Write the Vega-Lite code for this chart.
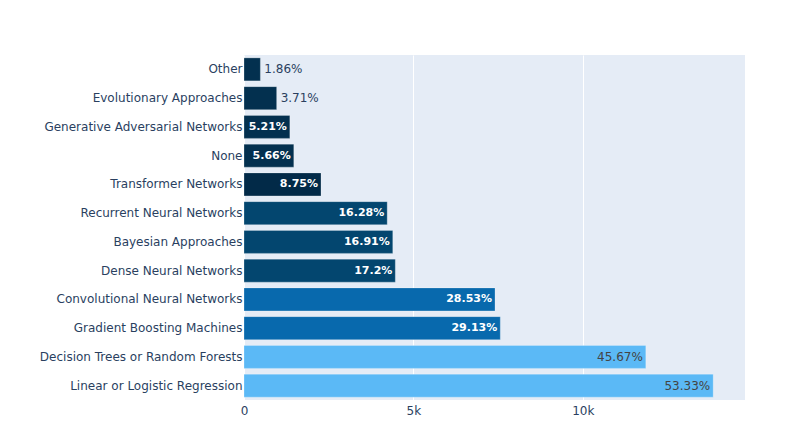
{
  "$schema": "https://vega.github.io/schema/vega-lite/v6.json",
  "width": 501,
  "height": 345,
  "autosize": {"type": "none"},
  "padding": {"left": 244, "top": 55, "right": 40, "bottom": 43},
  "background": "#ffffff",
  "config": {
    "view": {"fill": "#e5ecf6", "stroke": null},
    "font": "DejaVu Sans"
  },
  "data": {
    "values": [
      {"algorithm": "Linear or Logistic Regression", "count": 13851, "pct": "53.33%", "tier": "A"},
      {"algorithm": "Decision Trees or Random Forests", "count": 11862, "pct": "45.67%", "tier": "A"},
      {"algorithm": "Gradient Boosting Machines", "count": 7566, "pct": "29.13%", "tier": "B"},
      {"algorithm": "Convolutional Neural Networks", "count": 7410, "pct": "28.53%", "tier": "B"},
      {"algorithm": "Dense Neural Networks", "count": 4467, "pct": "17.2%", "tier": "C"},
      {"algorithm": "Bayesian Approaches", "count": 4392, "pct": "16.91%", "tier": "C"},
      {"algorithm": "Recurrent Neural Networks", "count": 4228, "pct": "16.28%", "tier": "C"},
      {"algorithm": "Transformer Networks", "count": 2273, "pct": "8.75%", "tier": "E"},
      {"algorithm": "None", "count": 1470, "pct": "5.66%", "tier": "D"},
      {"algorithm": "Generative Adversarial Networks", "count": 1353, "pct": "5.21%", "tier": "D"},
      {"algorithm": "Evolutionary Approaches", "count": 964, "pct": "3.71%", "tier": "D"},
      {"algorithm": "Other", "count": 483, "pct": "1.86%", "tier": "D"}
    ]
  },
  "encoding": {
    "y": {
      "field": "algorithm",
      "type": "nominal",
      "sort": ["Other", "Evolutionary Approaches", "Generative Adversarial Networks", "None", "Transformer Networks", "Recurrent Neural Networks", "Bayesian Approaches", "Dense Neural Networks", "Convolutional Neural Networks", "Gradient Boosting Machines", "Decision Trees or Random Forests", "Linear or Logistic Regression"],
      "title": null,
      "scale": {"paddingInner": 0.2, "paddingOuter": 0.1},
      "axis": {
        "domain": false,
        "ticks": false,
        "labelPadding": 2,
        "labelLimit": 0,
        "labelFont": "DejaVu Sans",
        "labelFontSize": 12,
        "labelColor": "#2a3f5f",
        "grid": false
      }
    },
    "x": {
      "field": "count",
      "type": "quantitative",
      "title": null,
      "scale": {"domain": [0, 14790], "nice": false, "zero": true},
      "axis": {
        "values": [0, 5000, 10000],
        "labelExpr": "datum.value === 0 ? '0' : (datum.value / 1000) + 'k'",
        "labelFlush": false,
        "domain": false,
        "ticks": false,
        "labelPadding": 5,
        "labelFont": "DejaVu Sans",
        "labelFontSize": 12,
        "labelColor": "#2a3f5f",
        "grid": true,
        "gridColor": "#ffffff",
        "gridWidth": 1
      }
    }
  },
  "layer": [
    {
      "mark": {"type": "bar", "stroke": "#ffffff", "strokeOpacity": 0.25, "strokeWidth": 1},
      "encoding": {
        "color": {
          "field": "tier",
          "type": "nominal",
          "legend": null,
          "scale": {
            "domain": ["A", "B", "C", "D", "E"],
            "range": ["#5bb9f6", "#0869ad", "#03466f", "#03304f", "#022a48"]
          }
        }
      }
    },
    {
      "transform": [{"filter": "datum.count < 1000"}],
      "mark": {"type": "text", "align": "left", "baseline": "middle", "dx": 4, "fontSize": 12, "font": "DejaVu Sans", "color": "#2a3f5f"},
      "encoding": {"text": {"field": "pct"}}
    },
    {
      "transform": [{"filter": "datum.count >= 1000 && datum.count < 11000"}],
      "mark": {"type": "text", "align": "right", "baseline": "middle", "dx": -3, "fontSize": 11, "font": "DejaVu Sans", "fontWeight": "bold", "color": "#ffffff"},
      "encoding": {"text": {"field": "pct"}}
    },
    {
      "transform": [{"filter": "datum.count >= 11000"}],
      "mark": {"type": "text", "align": "right", "baseline": "middle", "dx": -3, "fontSize": 12, "font": "DejaVu Sans", "color": "#444444"},
      "encoding": {"text": {"field": "pct"}}
    }
  ]
}
